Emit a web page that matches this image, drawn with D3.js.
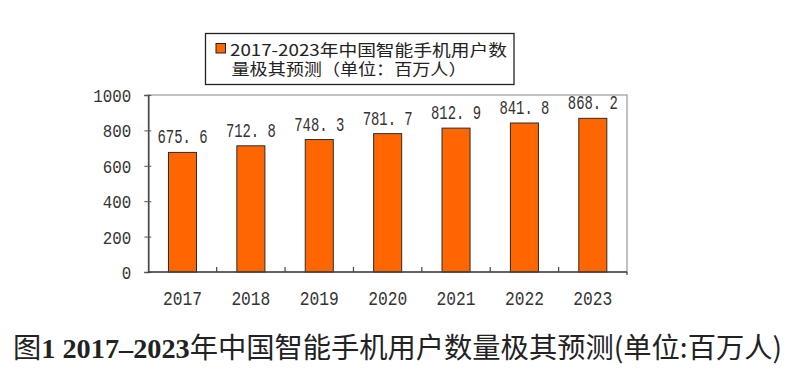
<!DOCTYPE html>
<html>
<head>
<meta charset="utf-8">
<script src="https://cdn.jsdelivr.net/npm/d3@7"></script>
<style>
  html, body { margin: 0; padding: 0; background: #fff; }
  svg { display: block; }
</style>
</head>
<body>
<div id="chart"></div>
<script>
// Data
const years = ["2017", "2018", "2019", "2020", "2021", "2022", "2023"];
const users = [675.6, 712.8, 748.3, 781.7, 812.9, 841.8, 868.2];
const labels = ["675. 6", "712. 8", "748. 3", "781. 7", "812. 9", "841. 8", "868. 2"];
const yTicks = [0, 200, 400, 600, 800, 1000];
const legendLines = ["2017-2023年中国智能手机用户数", "量极其预测（单位：百万人）"];

const W = 800, H = 381;
const PLOT = { left: 148.3, right: 627, top: 95, bottom: 272 };
const BAR_FILL = "#ff6600";
const MONO = "'Liberation Mono', 'DejaVu Sans Mono', monospace";
const CJK = "'Noto Sans CJK SC', 'Noto Sans', sans-serif";

const svg = d3.select("#chart").append("svg")
  .attr("width", W).attr("height", H)
  .attr("viewBox", `0 0 ${W} ${H}`);

svg.append("rect").attr("width", W).attr("height", H).attr("fill", "#fff");

const x = d3.scaleBand()
  .domain(years)
  .range([PLOT.left, PLOT.right])
  .paddingInner(0.59)
  .paddingOuter(0.295);

const y = d3.scaleLinear()
  .domain([0, 1000])
  .range([PLOT.bottom, PLOT.top]);

// Plot frame
svg.append("rect")
  .attr("x", PLOT.left).attr("y", PLOT.top)
  .attr("width", PLOT.right - PLOT.left)
  .attr("height", PLOT.bottom - PLOT.top)
  .attr("fill", "none")
  .attr("stroke", "#9a9a9a").attr("stroke-width", 1.2);

// Bars
svg.append("g").selectAll("rect")
  .data(users)
  .join("rect")
  .attr("x", (d, i) => x(years[i]))
  .attr("y", d => y(d))
  .attr("width", x.bandwidth())
  .attr("height", d => y(0) - y(d))
  .attr("fill", BAR_FILL)
  .attr("stroke", "#2b2b2b").attr("stroke-width", 1);

// Value labels
svg.append("g").selectAll("text")
  .data(users)
  .join("text")
  .attr("x", (d, i) => x(years[i]) + x.bandwidth() / 2)
  .attr("y", d => y(d) - 9)
  .attr("text-anchor", "middle")
  .attr("font-family", MONO)
  .attr("font-size", 20)
  .attr("fill", "#333")
  .attr("textLength", 50)
  .attr("lengthAdjust", "spacingAndGlyphs")
  .text((d, i) => labels[i]);

// Y axis
const yAxis = svg.append("g")
  .attr("transform", `translate(${PLOT.left},0)`)
  .call(d3.axisLeft(y).tickValues(yTicks).tickFormat(d3.format("d")).tickSize(4).tickPadding(13));
yAxis.select(".domain").attr("stroke", "#444").attr("stroke-width", 1.5);
yAxis.selectAll(".tick line").attr("stroke", "#555").attr("x2", 3).attr("x1", -4);
yAxis.selectAll(".tick text")
  .attr("font-family", MONO)
  .attr("font-size", 18)
  .attr("fill", "#333")
  .attr("dy", "0.36em")
  .attr("textLength", d => String(d).length * 9.5)
  .attr("lengthAdjust", "spacingAndGlyphs");

// X axis: line, ticks at category boundaries, labels
const step = x.step();
const bounds = d3.range(years.length + 1).map(i => PLOT.left + i * step);
svg.append("line")
  .attr("x1", PLOT.left).attr("x2", PLOT.right)
  .attr("y1", PLOT.bottom).attr("y2", PLOT.bottom)
  .attr("stroke", "#444").attr("stroke-width", 1.5);
svg.append("g").selectAll("line")
  .data(bounds.slice(1))
  .join("line")
  .attr("x1", d => d).attr("x2", d => d)
  .attr("y1", PLOT.bottom).attr("y2", (d, i) => i === bounds.length - 2 ? PLOT.bottom + 3 : PLOT.bottom - 5)
  .attr("stroke", "#444").attr("stroke-width", 1.2);
svg.append("g").selectAll("text")
  .data(years)
  .join("text")
  .attr("x", d => x(d) + x.bandwidth() / 2)
  .attr("y", 305)
  .attr("text-anchor", "middle")
  .attr("font-family", MONO)
  .attr("font-size", 20)
  .attr("fill", "#333")
  .attr("textLength", 39)
  .attr("lengthAdjust", "spacingAndGlyphs")
  .text(d => d);

// Legend
const legend = svg.append("g");
legend.append("rect")
  .attr("x", 205.5).attr("y", 33.5)
  .attr("width", 308.5).attr("height", 51)
  .attr("fill", "#fff")
  .attr("stroke", "#222").attr("stroke-width", 1.3);
legend.append("rect")
  .attr("x", 216).attr("y", 43.5)
  .attr("width", 9.5).attr("height", 9.5)
  .attr("fill", BAR_FILL)
  .attr("stroke", "#222").attr("stroke-width", 1);
legend.selectAll("text.legend-line")
  .data(legendLines)
  .join("text")
  .attr("class", "legend-line")
  .attr("x", (d, i) => i === 0 ? 230 : 231.5)
  .attr("y", (d, i) => 56 + i * 19)
  .attr("font-family", CJK)
  .attr("font-size", 16)
  .attr("fill", "#222")
  .attr("textLength", (d, i) => i === 0 ? 277 : 235)
  .attr("lengthAdjust", "spacingAndGlyphs")
  .text(d => d);

// Caption
const cap = svg.append("text")
  .attr("x", 13).attr("y", 358)
  .attr("font-size", 28)
  .attr("fill", "#222")
  .attr("textLength", 769)
  .attr("lengthAdjust", "spacingAndGlyphs");
cap.append("tspan").attr("font-family", CJK).attr("font-weight", 400).text("图");
cap.append("tspan").attr("font-family", "'Liberation Serif', serif").attr("font-weight", 700).text("1 2017–2023");
cap.append("tspan").attr("font-family", CJK).attr("font-weight", 400).text("年中国智能手机用户数量极其预测(单位:百万人)");
</script>
</body>
</html>
